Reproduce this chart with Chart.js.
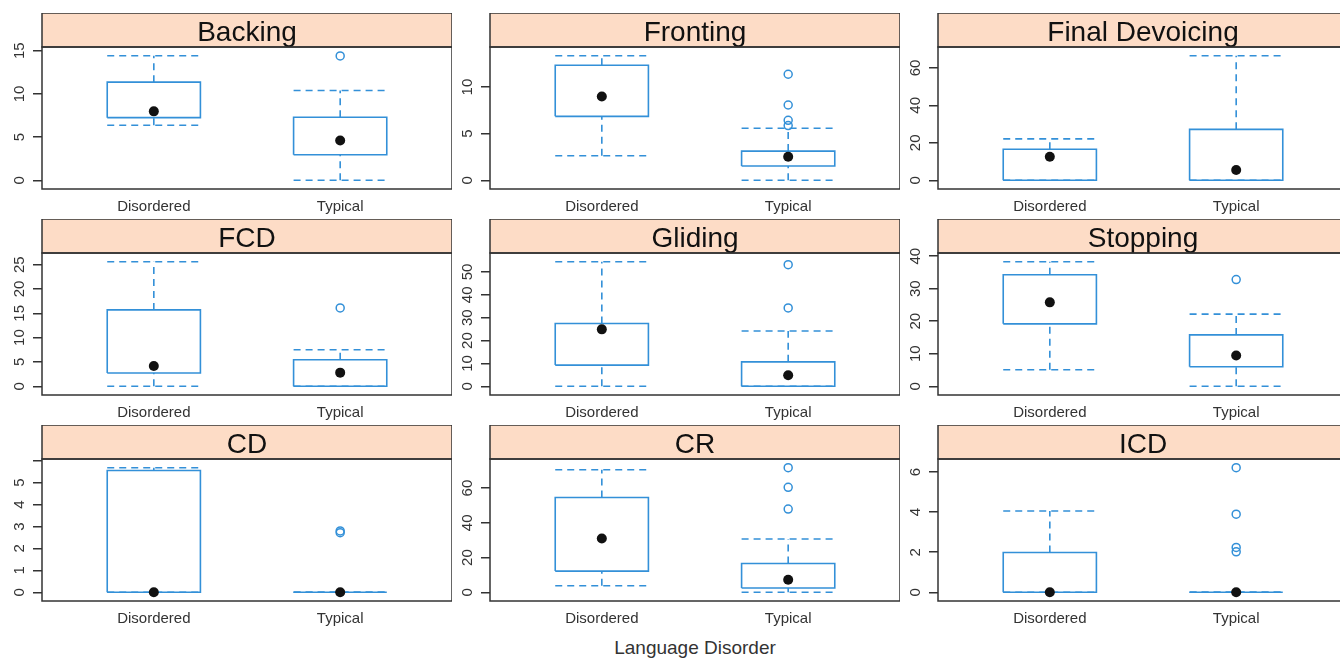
<!DOCTYPE html>
<html>
<head>
<meta charset="utf-8">
<script src="https://cdn.jsdelivr.net/npm/chart.js@4"></script>
<style>
  body { margin: 0; background: #fff; width: 1340px; height: 659px; overflow: hidden; position: relative; font-family: "Liberation Sans", Arial, sans-serif; }
  canvas { position: absolute; }
  #xtitle { position: absolute; left: 545px; width: 300px; top: 637px; text-align: center; font-size: 19px; line-height: 22px; color: #333; }
</style>
</head>
<body>
<div id="xtitle">Language Disorder</div>
<script>
const groups = ["Disordered", "Typical"];
const panels = ["Backing", "Fronting", "Final Devoicing", "FCD", "Gliding", "Stopping", "CD", "CR", "ICD"];

// [lower whisker, Q1, median, Q3, upper whisker]
const disordered = [
  [6.37, 7.25, 7.98, 11.36, 14.42],
  [2.63, 6.86, 9.0, 12.35, 13.37],
  [0, 0, 12.6, 16.6, 22.1],
  [0, 2.72, 4.15, 15.7, 25.6],
  [0, 9.26, 24.9, 27.5, 54.5],
  [5.07, 19.2, 25.8, 34.3, 38.3],
  [0, 0, 0, 5.55, 5.68],
  [3.8, 12.2, 31.0, 54.6, 70.5],
  [0, 0, 0, 1.99, 4.06],
];
const typical = [
  [0, 2.95, 4.6, 7.29, 10.39],
  [0, 1.53, 2.53, 3.13, 5.58],
  [0, 0, 5.5, 27.2, 66.5],
  [0, 0, 2.8, 5.45, 7.5],
  [0, 0, 4.8, 10.7, 24.2],
  [0, 6.0, 9.47, 15.8, 22.2],
  [0, 0, 0, 0, 0],
  [0, 2.5, 7.2, 16.6, 30.7],
  [0, 0, 0, 0, 0],
];
const outDisordered = [[], [], [], [], [], [], [], [], []];
const outTypical = [
  [14.4],
  [11.38, 8.08, 6.44, 5.87],
  [],
  [16.1],
  [53.2, 34.3],
  [32.8],
  [2.8, 2.72],
  [71.7, 60.4, 47.9],
  [6.22, 3.9, 2.24, 2.02],
];
const yTicks = [
  [0, 5, 10, 15],
  [0, 5, 10],
  [0, 20, 40, 60],
  [0, 5, 10, 15, 20, 25],
  [0, 10, 20, 30, 40, 50],
  [0, 10, 20, 30, 40],
  [0, 1, 2, 3, 4, 5, 6],
  [0, 20, 40, 60],
  [0, 2, 4, 6],
];
const yTickLabels = [
  ["0", "5", "10", "15"],
  ["0", "5", "10"],
  ["0", "20", "40", "60"],
  ["0", "5", "10", "15", "20", "25"],
  ["0", "10", "20", "30", "40", "50"],
  ["0", "10", "20", "30", "40"],
  ["0", "1", "2", "3", "4", "5", ""],
  ["0", "20", "40", "60"],
  ["0", "2", "4", "6"],
];

const BLUE = "#3390d8";
const STRIP = "#fddcc6";
const FRAME = "#333";
const colLeft = [42, 490, 938];
const stripTop = [13, 219, 425];
const panelW = 410, stripH = 34, plotH = 142, axisW = 42, axisH = 30;
const half = 0.25;

function seg(x1, y1, x2, y2) {
  return [{ x: x1, y: y1 }, { x: x2, y: y2 }];
}

function panelDatasets(p) {
  const sets = [];
  const stats = [disordered[p], typical[p]];
  const outs = [outDisordered[p], outTypical[p]];
  stats.forEach((s, g) => {
    const x = g + 1;
    const [lo, q1, med, q3, hi] = s;
    const whisk = [
      seg(x - half, hi, x + half, hi),
      seg(x - half, lo, x + half, lo),
      seg(x, q3, x, hi),
      seg(x, lo, x, q1),
    ];
    whisk.forEach((d) => {
      sets.push({ data: d, showLine: true, borderColor: BLUE, borderWidth: 1.6, borderDash: [7, 5], pointRadius: 0, order: 3 });
    });
    sets.push({
      data: [{ x: x - half, y: q1 }, { x: x + half, y: q1 }, { x: x + half, y: q3 }, { x: x - half, y: q3 }, { x: x - half, y: q1 }],
      showLine: true, borderColor: BLUE, borderWidth: 1.6, pointRadius: 0, order: 2,
    });
    sets.push({
      data: outs[g].map((v) => ({ x: x, y: v })),
      pointRadius: 4, borderColor: BLUE, borderWidth: 1.5, backgroundColor: "rgba(0,0,0,0)", order: 1,
    });
    sets.push({
      data: [{ x: x, y: med }],
      pointRadius: 5, backgroundColor: "#111", borderWidth: 0, order: 0,
    });
  });
  return sets;
}

function yRange(p) {
  const all = disordered[p].concat(typical[p], outDisordered[p], outTypical[p]);
  const lo = Math.min(...all), hi = Math.max(...all);
  const ext = (hi - lo) * 0.07;
  return [lo - ext, hi + ext];
}

const panelFrame = {
  id: "panelFrame",
  beforeDraw(chart, args, opts) {
    const { ctx, chartArea: a } = chart;
    ctx.save();
    ctx.fillStyle = STRIP;
    ctx.fillRect(a.left, a.top - stripH, a.right - a.left, stripH);
    ctx.strokeStyle = FRAME;
    ctx.lineWidth = 1.5;
    ctx.strokeRect(a.left, a.top - stripH, a.right - a.left, stripH);
    ctx.fillStyle = "#111";
    ctx.font = "28px 'Liberation Sans', Arial, sans-serif";
    ctx.textAlign = "center";
    ctx.textBaseline = "alphabetic";
    ctx.fillText(opts.title, (a.left + a.right) / 2, a.top - stripH + 28);
    ctx.restore();
  },
  afterDraw(chart, args, opts) {
    const { ctx, chartArea: a } = chart;
    const y = chart.scales.y;
    ctx.save();
    ctx.strokeStyle = FRAME;
    ctx.lineWidth = 1.5;
    ctx.strokeRect(a.left, a.top, a.right - a.left, a.bottom - a.top);
    ctx.fillStyle = "#333";
    ctx.font = "15px 'Liberation Sans', Arial, sans-serif";
    ctx.textAlign = "center";
    ctx.textBaseline = "middle";
    yTicks[opts.index].forEach((v, i) => {
      const lab = yTickLabels[opts.index][i];
      if (!lab) return;
      ctx.save();
      ctx.translate(a.left - 22, y.getPixelForValue(v));
      ctx.rotate(-Math.PI / 2);
      ctx.fillText(lab, 0, 0);
      ctx.restore();
    });
    ctx.restore();
  },
};

panels.forEach((name, p) => {
  const col = p % 3, row = Math.floor(p / 3);
  const cv = document.createElement("canvas");
  cv.width = axisW + panelW;
  cv.height = stripH + plotH + axisH;
  cv.style.left = (colLeft[col] - axisW) + "px";
  cv.style.top = stripTop[row] + "px";
  document.body.appendChild(cv);
  const [ymin, ymax] = yRange(p);

  new Chart(cv, {
    type: "scatter",
    data: { datasets: panelDatasets(p) },
    options: {
      responsive: false,
      animation: false,
      events: [],
      layout: { padding: { top: stripH, left: 0, right: 0, bottom: 0 }, autoPadding: false },
      plugins: {
        legend: { display: false },
        tooltip: { enabled: false },
        panelFrame: { title: name, index: p },
      },
      scales: {
        x: {
          type: "linear",
          min: 0.4,
          max: 2.6,
          afterBuildTicks: (s) => { s.ticks = groups.map((g, i) => ({ value: i + 1 })); },
          afterFit: (s) => { s.height = axisH; },
          grid: { display: false },
          border: { display: false },
          ticks: {
            autoSkip: false,
            maxRotation: 0,
            padding: 1,
            color: "#333",
            font: { size: 15, family: "'Liberation Sans', Arial, sans-serif" },
            callback: (v) => groups[v - 1],
          },
        },
        y: {
          type: "linear",
          min: ymin,
          max: ymax,
          afterBuildTicks: (s) => { s.ticks = yTicks[p].map((v) => ({ value: v })); },
          afterFit: (s) => { s.width = axisW; },
          grid: { drawOnChartArea: false, drawTicks: true, tickLength: 9, color: FRAME, lineWidth: 1.5 },
          border: { display: false },
          ticks: { display: false },
        },
      },
    },
    plugins: [panelFrame],
  });
});
</script>
</body>
</html>
